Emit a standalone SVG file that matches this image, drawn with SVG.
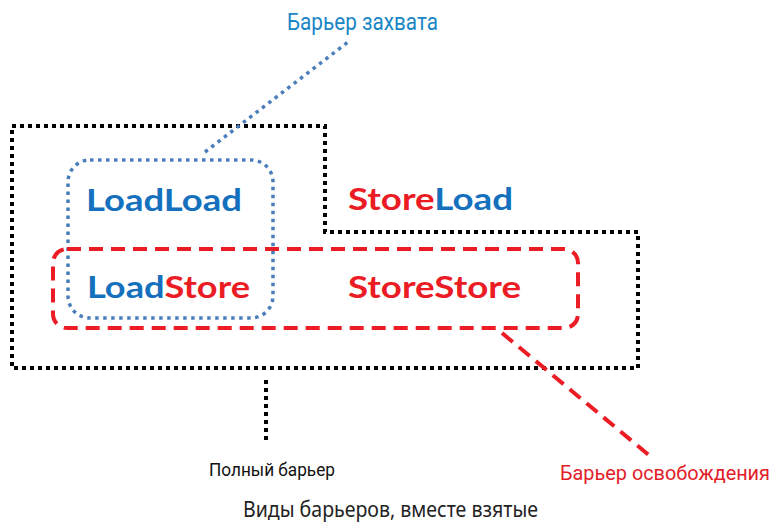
<svg xmlns="http://www.w3.org/2000/svg" width="783" height="523" viewBox="0 0 783 523">
<style>
.full{fill:none;stroke:#000;stroke-width:4;stroke-dasharray:4 4}
.acq{fill:none;stroke:#4a7ebb;stroke-width:3.5;stroke-dasharray:3.5 4.5}
.rel{fill:none;stroke:#ec1c24;stroke-width:4;stroke-dasharray:14 8}
.kind{font-family:Lato,"Open Sans",sans-serif;font-weight:bold;font-size:31px}
.b{fill:#1570be}
.r{fill:#ec1c24}
.lbl{font-family:Roboto,"Liberation Sans",sans-serif}
</style>
<rect width="783" height="523" fill="#fff"/>
<g id="full-barrier">
<path class="full" d="M12,126 H325 V232 H638 V368 H12 Z"/>
</g>
<g id="acquire-barrier">
<rect class="acq" x="68" y="160" width="205" height="158" rx="22"/>
</g>
<g id="release-barrier">
<rect class="rel" x="53" y="249" width="525" height="79" rx="14"/>
</g>
<g id="connectors">
<line class="acq" x1="205" y1="152" x2="348" y2="42"/>
<line class="rel" x1="502" y1="333" x2="650" y2="456"/>
<line class="full" x1="266" y1="380" x2="266" y2="440"/>
</g>
<g id="LoadLoad"><text class="kind b" x="86" y="211" textLength="156" lengthAdjust="spacingAndGlyphs">LoadLoad</text></g>
<g id="StoreLoad"><text class="kind" x="348" y="210" textLength="165" lengthAdjust="spacingAndGlyphs"><tspan class="r">Store</tspan><tspan class="b">Load</tspan></text></g>
<g id="LoadStore"><text class="kind" x="87" y="298" textLength="163" lengthAdjust="spacingAndGlyphs"><tspan class="b">Load</tspan><tspan class="r">Store</tspan></text></g>
<g id="StoreStore"><text class="kind r" x="348" y="298" textLength="173" lengthAdjust="spacingAndGlyphs">StoreStore</text></g>
<g id="label-acquire"><text class="lbl" x="287" y="30" font-size="23" fill="#1a86c6" textLength="151" lengthAdjust="spacingAndGlyphs">Барьер захвата</text></g>
<g id="label-release"><text class="lbl" x="560" y="480" font-size="21" fill="#e3202a" textLength="210" lengthAdjust="spacingAndGlyphs">Барьер освобождения</text></g>
<g id="label-full"><text class="lbl" x="209" y="476" font-size="19" fill="#111" textLength="126" lengthAdjust="spacingAndGlyphs">Полный барьер</text></g>
<g id="caption"><text x="243" y="517" font-family="'Noto Sans','Open Sans',sans-serif" font-size="21" fill="#222" textLength="295" lengthAdjust="spacingAndGlyphs">Виды барьеров, вместе взятые</text></g>
</svg>
